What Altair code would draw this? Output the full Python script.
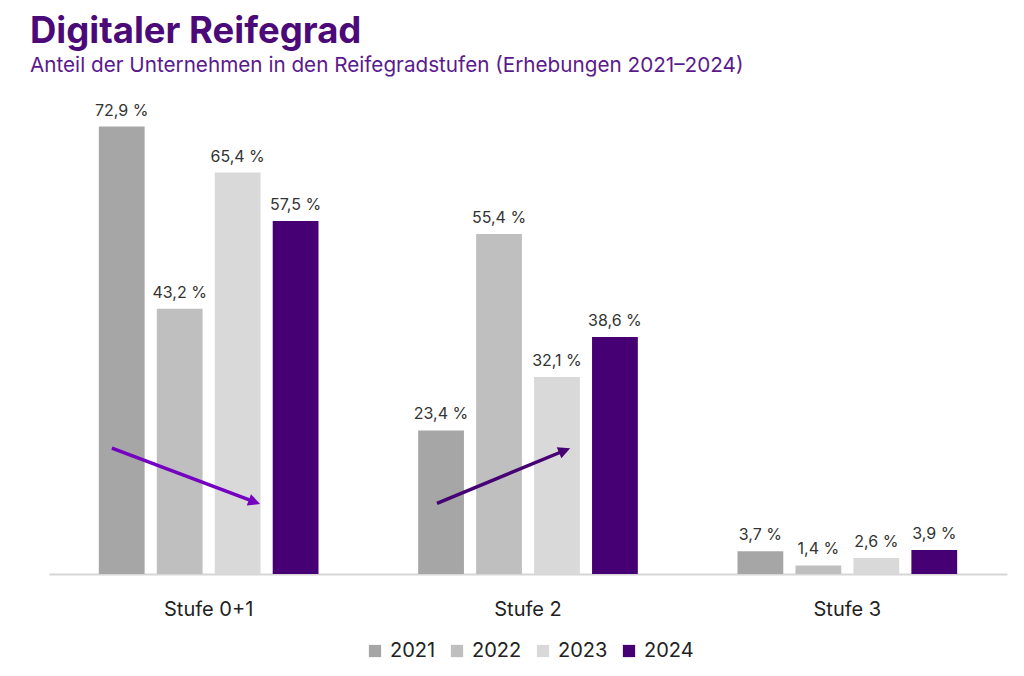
import altair as alt
import pandas as pd

categories = ["Stufe 0+1", "Stufe 2", "Stufe 3"]
years = ["2021", "2022", "2023", "2024"]
values_2021 = [72.9, 23.4, 3.7]
values_2022 = [43.2, 55.4, 1.4]
values_2023 = [65.4, 32.1, 2.6]
values_2024 = [57.5, 38.6, 3.9]
bar_colors = ["#a6a6a6", "#bfbfbf", "#d9d9d9", "#460073"]

# trend arrows (x in group units 0..3, y in percent)
arrow_x_start = [0.197, 1.215]
arrow_y_start = [20.5, 11.5]
arrow_x_end = [0.6375, 1.609]
arrow_y_end = [11.86, 20.0]
arrow_x_tip = [0.661, 1.632]
arrow_y_tip = [11.4, 20.5]
arrow_angle = [110.7, 67.5]
arrow_colors = ["#7500c0", "#460073"]

FONT = "Inter"

rows = []
for yr, vals in zip(years, [values_2021, values_2022, values_2023, values_2024]):
    for c, v in zip(categories, vals):
        rows.append({"Stufe": c, "Jahr": yr, "Wert": v,
                     "Label": f"{v:.1f}".replace(".", ",") + " %"})
df = pd.DataFrame(rows)

arrows = pd.DataFrame({
    "x0": arrow_x_start, "y0": arrow_y_start,
    "x1": arrow_x_end, "y1": arrow_y_end,
    "xt": arrow_x_tip, "yt": arrow_y_tip,
    "a": arrow_angle, "c": arrow_colors,
})

y_scale = alt.Scale(domain=[0, 80])
x_scale = alt.Scale(paddingInner=0.274, paddingOuter=0.137)
x_axis = alt.Axis(title=None, labelAngle=0, ticks=False,
                  domain=True, domainColor="#d6d6d6", domainWidth=2,
                  labelFontSize=20, labelFont=FONT, labelColor="#222222",
                  labelPadding=25)
x_enc = alt.X("Stufe:N", sort=categories, scale=x_scale, axis=x_axis)

xo_enc = alt.XOffset("Jahr:N", sort=years,
                     scale=alt.Scale(paddingInner=0.21, paddingOuter=0.105))

bars = alt.Chart(df).mark_bar().encode(
    x=x_enc,
    xOffset=xo_enc,
    y=alt.Y("Wert:Q", scale=y_scale, axis=None),
    color=alt.Color("Jahr:N", sort=years,
                    scale=alt.Scale(domain=years, range=bar_colors),
                    legend=alt.Legend(title=None, orient="none", direction="horizontal",
                                      legendX=316, legendY=558,
                                      symbolType="square", symbolSize=150,
                                      symbolStrokeWidth=0,
                                      labelFontSize=20, labelFont=FONT,
                                      labelColor="#222222", labelOffset=5,
                                      columnPadding=11)),
)

labels = alt.Chart(df).mark_text(baseline="bottom", dy=-8, fontSize=16,
                                 font=FONT, color="#333333").encode(
    x=x_enc,
    xOffset=xo_enc,
    y=alt.Y("Wert:Q", scale=y_scale, axis=None),
    text="Label:N",
)

bar_layer = alt.layer(bars, labels)

shafts = alt.Chart(arrows).mark_rule(strokeWidth=3.5).encode(
    x=alt.X("x0:Q", scale=alt.Scale(domain=[0, 3], nice=False, zero=False), axis=None),
    x2="x1:Q",
    y=alt.Y("y0:Q", scale=y_scale, axis=None), y2="y1:Q",
    color=alt.Color("c:N", scale=None, legend=None),
)
heads = alt.Chart(arrows).mark_point(shape="M0,0L0.8,1.6L-0.8,1.6Z", filled=True,
                                     size=225, opacity=1, strokeWidth=0).encode(
    x=alt.X("xt:Q", scale=alt.Scale(domain=[0, 3], nice=False, zero=False), axis=None),
    y=alt.Y("yt:Q", scale=y_scale, axis=None),
    angle=alt.Angle("a:Q", scale=None),
    color=alt.Color("c:N", scale=None, legend=None),
)

arrow_layer = alt.layer(shafts, heads)

chart = alt.layer(bar_layer, arrow_layer).resolve_scale(
    x="independent", color="independent"
).properties(
    width=958, height=491,
    padding={"left": 22, "top": 5, "right": 5, "bottom": 5},
    title=alt.Title("Digitaler Reifegrad",
                    subtitle="Anteil der Unternehmen in den Reifegradstufen (Erhebungen 2021–2024)",
                    anchor="start", dx=-19, offset=7,
                    font=FONT, fontSize=36.5, fontWeight="bold", color="#4b0a78",
                    subtitleFont=FONT, subtitleFontSize=20.7, subtitleColor="#5b1a8c",
                    subtitlePadding=6),
).configure_view(stroke=None)

chart.save("out.html", embed_options={"renderer": "svg", "actions": False})
